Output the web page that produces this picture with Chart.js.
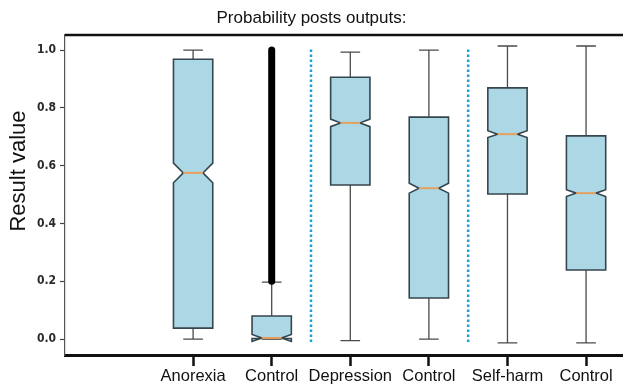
<!DOCTYPE html>
<html>
<head>
<meta charset="utf-8">
<title>Probability posts outputs</title>
<script src="https://cdn.jsdelivr.net/npm/chart.js@4"></script>
<style>
  html, body { margin: 0; background: #fff; }
  #wrap { width: 623px; height: 386px; }
</style>
</head>
<body>
<div id="wrap"><canvas id="box-chart"></canvas></div>
<script>
// values, one box per category
const categories = ['Anorexia', 'Control', 'Depression', 'Control', 'Self-harm', 'Control'];
const whiskerLow = [0.0, 0.0, -0.005, 0.0, -0.013, -0.013];
const q1 = [0.038, 0.002, 0.533, 0.142, 0.502, 0.239];
const medians = [0.575, 0.004, 0.748, 0.522, 0.709, 0.505];
const q3 = [0.968, 0.080, 0.906, 0.768, 0.869, 0.703];
const whiskerHigh = [1.0, 0.197, 0.993, 1.0, 1.014, 1.014];
const notchHalf = [0.034, 0.012, 0.013, 0.017, 0.012, 0.012];
// the first control group's outliers pile up into one solid column
const outlierRange = [0.2, 1.0];
// dotted separators between the three pairs
const separators = [2.5, 4.5];
const yTicks = [0, 0.2, 0.4, 0.6, 0.8, 1.0];

const BOX_FILL = '#acd8e6';
const BOX_EDGE = '#36464e';
const WHISKER = '#4a4a4a';
const MEDIAN = '#e6a05e';

// notched boxes drawn through the chart's own scales
const notchedBoxes = {
    id: 'notchedBoxes',
    beforeDatasetsDraw(chart) {
        const { ctx, scales: { x, y } } = chart;
        const halfW = 0.25;
        ctx.save();
        categories.forEach((_, i) => {
            const pos = i + 1;
            const cx = x.getPixelForValue(pos);
            const left = x.getPixelForValue(pos - halfW);
            const right = x.getPixelForValue(pos + halfW);
            const nl = x.getPixelForValue(pos - halfW / 2);
            const nr = x.getPixelForValue(pos + halfW / 2);
            const yq1 = y.getPixelForValue(q1[i]);
            const yq3 = y.getPixelForValue(q3[i]);
            const ymed = y.getPixelForValue(medians[i]);
            const ynlo = y.getPixelForValue(medians[i] - notchHalf[i]);
            const ynhi = y.getPixelForValue(medians[i] + notchHalf[i]);
            const ylo = y.getPixelForValue(whiskerLow[i]);
            const yhi = y.getPixelForValue(whiskerHigh[i]);

            // whiskers + caps (caps are half the box width)
            ctx.strokeStyle = WHISKER;
            ctx.lineWidth = 1.3;
            ctx.beginPath();
            ctx.moveTo(cx, yq3); ctx.lineTo(cx, yhi);
            ctx.moveTo(nl, yhi); ctx.lineTo(nr, yhi);
            ctx.moveTo(cx, yq1); ctx.lineTo(cx, ylo);
            ctx.moveTo(nl, ylo); ctx.lineTo(nr, ylo);
            ctx.stroke();

            // notched box
            ctx.beginPath();
            ctx.moveTo(left, yq1);
            ctx.lineTo(right, yq1);
            ctx.lineTo(right, ynlo);
            ctx.lineTo(nr, ymed);
            ctx.lineTo(right, ynhi);
            ctx.lineTo(right, yq3);
            ctx.lineTo(left, yq3);
            ctx.lineTo(left, ynhi);
            ctx.lineTo(nl, ymed);
            ctx.lineTo(left, ynlo);
            ctx.closePath();
            ctx.fillStyle = BOX_FILL;
            ctx.fill();
            ctx.strokeStyle = BOX_EDGE;
            ctx.lineWidth = 1.6;
            ctx.stroke();

            // median
            ctx.strokeStyle = MEDIAN;
            ctx.lineWidth = 2;
            ctx.beginPath();
            ctx.moveTo(nl, ymed);
            ctx.lineTo(nr, ymed);
            ctx.stroke();
        });
        ctx.restore();
    }
};

// top frame line and the y axis label
const frame = {
    id: 'frame',
    afterDraw(chart) {
        const { ctx, chartArea } = chart;
        ctx.save();
        ctx.strokeStyle = '#111';
        ctx.lineWidth = 2.5;
        ctx.beginPath();
        ctx.moveTo(chartArea.left, chartArea.top);
        ctx.lineTo(chartArea.right, chartArea.top);
        ctx.stroke();

        ctx.translate(25, 171);
        ctx.rotate(-Math.PI / 2);
        ctx.fillStyle = '#111';
        ctx.font = '22px "Liberation Sans", Arial, sans-serif';
        ctx.textAlign = 'center';
        ctx.textBaseline = 'alphabetic';
        ctx.fillText('Result value', 0, 0);
        ctx.restore();
    }
};

const separatorSets = separators.map(s => ({
    data: [{ x: s, y: -0.01 }, { x: s, y: 1.01 }],
    borderColor: '#239cd6',
    borderWidth: 2.5,
    borderDash: [2.5, 2.5],
    pointRadius: 0
}));

new Chart(document.getElementById('box-chart'), {
    type: 'line',
    data: {
        datasets: [
            ...separatorSets,
            {
                data: outlierRange.map(v => ({ x: 2, y: v })),
                borderColor: '#000',
                borderWidth: 7,
                borderCapStyle: 'round',
                pointRadius: 0
            }
        ]
    },
    options: {
        responsive: true,
        maintainAspectRatio: false,
        animation: false,
        layout: { padding: 0 },
        plugins: {
            legend: { display: false },
            tooltip: { enabled: false },
            title: {
                display: true,
                text: 'Probability posts outputs:',
                color: '#111',
                font: { family: 'Liberation Sans', size: 17, weight: 'normal', lineHeight: 1.2 },
                padding: { top: 8, bottom: 6.6 }
            }
        },
        scales: {
            x: {
                type: 'linear',
                min: -0.63,
                max: 6.47,
                afterBuildTicks: scale => {
                    scale.ticks = categories.map((c, i) => ({ value: i + 1 }));
                },
                afterFit: scale => { scale.height = 31; },
                ticks: {
                    autoSkip: false,
                    maxRotation: 0,
                    padding: 1,
                    color: '#111',
                    font: { family: 'Liberation Sans', size: 16.5 },
                    callback: v => categories[Math.round(v) - 1]
                },
                grid: {
                    drawOnChartArea: false,
                    drawTicks: true,
                    tickLength: 11,
                    tickWidth: 2.5,
                    tickColor: '#111'
                },
                border: { display: true, color: '#111', width: 3 }
            },
            y: {
                min: -0.055,
                max: 1.052,
                afterBuildTicks: scale => {
                    scale.ticks = yTicks.map(v => ({ value: v }));
                },
                afterFit: scale => { scale.width = 65; },
                ticks: {
                    padding: 4,
                    color: '#2a2a2a',
                    font: { family: 'DejaVu Sans Condensed', size: 12, weight: 'bold' },
                    callback: v => v.toFixed(1)
                },
                grid: {
                    drawOnChartArea: false,
                    drawTicks: true,
                    tickLength: 5,
                    tickWidth: 1.2,
                    tickColor: '#444'
                },
                border: { display: true, color: '#555', width: 1.2 }
            }
        }
    },
    plugins: [notchedBoxes, frame]
});
</script>
</body>
</html>
